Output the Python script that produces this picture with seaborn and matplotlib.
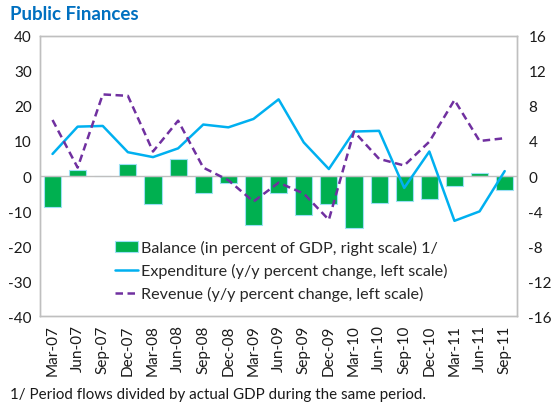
import numpy as np
import matplotlib
matplotlib.use("Agg")
import matplotlib.pyplot as plt
import seaborn as sns

# quarterly data, Mar-07 .. Sep-11
periods = ["Mar-07", "Jun-07", "Sep-07", "Dec-07", "Mar-08", "Jun-08", "Sep-08",
           "Dec-08", "Mar-09", "Jun-09", "Sep-09", "Dec-09", "Mar-10", "Jun-10",
           "Sep-10", "Dec-10", "Mar-11", "Jun-11", "Sep-11"]
balance = [-3.5, 0.7, 0.05, 1.4, -3.2, 1.9, -1.9, -0.8, -5.6, -1.9, -4.4, -3.2,
           -5.9, -3.1, -2.9, -2.6, -1.1, 0.4, -1.6]
expenditure = [6.3, 14.1, 14.3, 6.8, 5.4, 7.9, 14.7, 13.9, 16.3, 21.9, 9.6, 2.0,
               12.7, 12.9, -3.4, 7.0, -12.8, -10.1, 1.4]
revenue = [16.0, 2.4, 23.3, 22.9, 7.0, 15.8, 2.4, -1.2, -7.3, -1.9, -5.0, -12.5,
           12.7, 4.9, 3.0, 9.8, 21.7, 10.0, 10.8]
left_ticks = [40, 30, 20, 10, 0, -10, -20, -30, -40]
right_ticks = [16, 12, 8, 4, 0, -4, -8, -12, -16]

sns.set_style("white")
plt.rcParams["font.family"] = ["Lato", "DejaVu Sans"]
plt.rcParams["axes.unicode_minus"] = False

GREEN = "#00B050"
CYAN = "#00B0F0"
PURPLE = "#7030A0"
GRAY = "#BFBFBF"

x = np.arange(len(periods))

fig = plt.figure(figsize=(5.55, 4.06), dpi=100)
ax = fig.add_axes([0.072, 0.219, 0.860, 0.690])
ax2 = ax.twinx()

sns.barplot(x=x, y=balance, ax=ax2, color=GREEN, width=0.68, saturation=1,
            edgecolor="#9BE0F5", linewidth=0.8, label="Balance (in percent of GDP, right scale) 1/")
sns.lineplot(x=x, y=expenditure, ax=ax, color=CYAN, linewidth=1.8,
             label="Expenditure (y/y percent change, left scale)")
sns.lineplot(x=x, y=revenue, ax=ax, color=PURPLE, linewidth=1.8, dashes=False,
             label="Revenue (y/y percent change, left scale)")
ax.lines[-1].set_dashes([3, 1.8])

ax.set_zorder(ax2.get_zorder() + 1)
ax.patch.set_visible(False)

ax.axhline(0, color=GRAY, linewidth=1, zorder=0)

ax.set_xlim(-0.5, len(periods) - 0.5)
ax.set_ylim(-40, 40)
ax2.set_ylim(-16, 16)
ax.set_yticks(left_ticks)
ax2.set_yticks(right_ticks)
ax.set_xticks(x)
ax.set_xticklabels(periods, rotation=90)
ax.tick_params(length=0, labelsize=11, colors="#1A1A1A", pad=6)
ax2.tick_params(length=0, labelsize=11, colors="#1A1A1A", pad=8)
ax.set_xlabel("")
ax2.set_xlabel("")

for a in (ax, ax2):
    for s in a.spines.values():
        s.set_color(GRAY)
        s.set_linewidth(1)

h1, l1 = ax2.get_legend_handles_labels()
h2, l2 = ax.get_legend_handles_labels()
if ax2.legend_:
    ax2.legend_.remove()
ax.legend(h1 + h2, l1 + l2, loc="upper left", bbox_to_anchor=(115 / 555, 1 - 241 / 406),
          bbox_transform=fig.transFigure, frameon=False, fontsize=11.6,
          handlelength=1.4, handletextpad=0.2, labelspacing=0.5, borderpad=0,
          borderaxespad=0)

fig.text(10 / 555, 1 - 15 / 406, "Public Finances", color="#0070C0", fontsize=13.5,
         fontweight="bold", va="center", ha="left")
fig.text(10 / 555, 1 - 395 / 406, "1/ Period flows divided by actual GDP during the same period.",
         color="#1A1A1A", fontsize=10.9, va="center", ha="left")

fig.savefig("out.png", dpi=100)
